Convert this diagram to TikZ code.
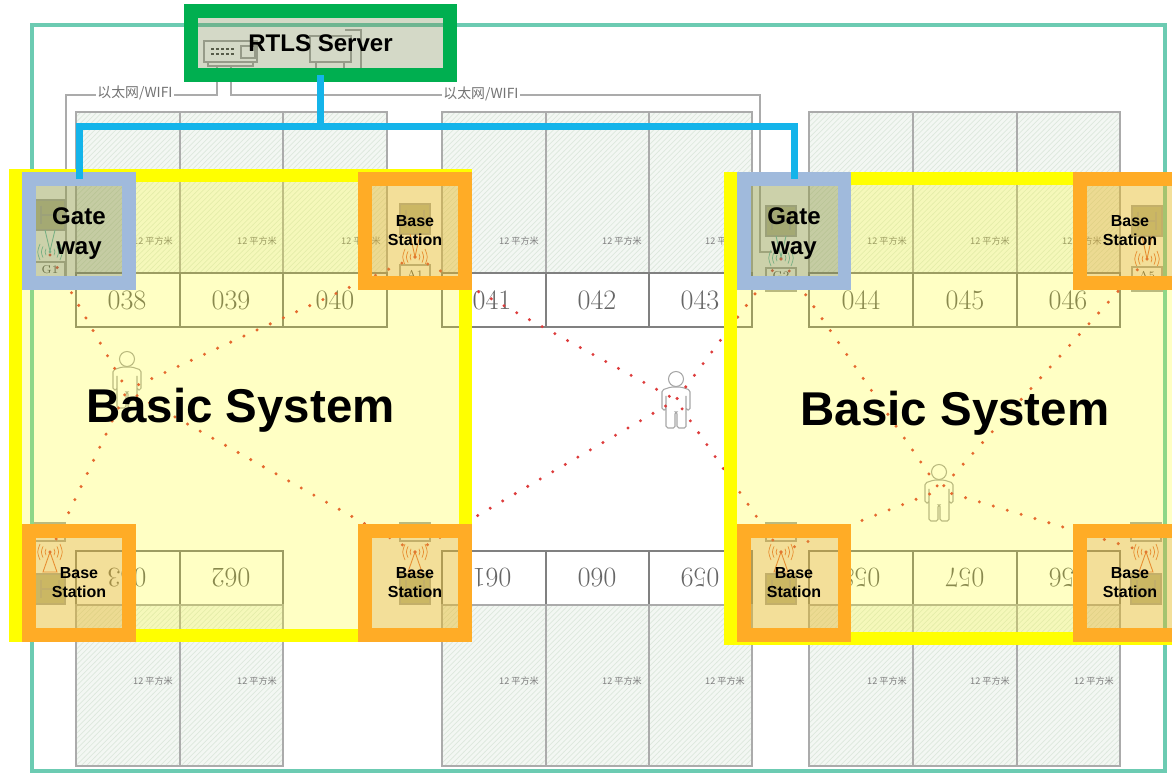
\documentclass[tikz,border=0pt]{standalone}
\usepackage{fontspec}
\setsansfont{Liberation Sans}
\newfontfamily\cjkfont{Noto Sans CJK SC}
\usetikzlibrary{patterns}

\definecolor{tealwall}{HTML}{6CCBB2}
\definecolor{greenframe}{HTML}{00AF50}
\definecolor{yellowframe}{HTML}{FFFF00}
\definecolor{orangeframe}{HTML}{FFAC26}
\definecolor{blueframe}{HTML}{A0BADC}
\definecolor{busblue}{HTML}{14B4EA}
\definecolor{hatchbg}{HTML}{F3F7F3}
\definecolor{hatchline}{HTML}{DDE8DD}
\definecolor{roomline}{HTML}{ABABAB}
\definecolor{devfill}{HTML}{B4B49A}
\definecolor{dotred}{HTML}{DD3C3C}
\definecolor{sigred}{HTML}{E8683C}
\definecolor{sigteal}{HTML}{62C0B8}
\definecolor{gatefill}{HTML}{58696E}
\definecolor{basefill}{HTML}{DA9738}
\definecolor{serverfill}{HTML}{738348}

\tikzset{
  hatchroom/.style={draw=roomline, line width=0.8, preaction={fill=hatchbg}, pattern=north east lines, pattern color=hatchline},
  numroom/.style={draw=black!50, line width=0.6},
  roomnum/.style={font=\fontsize{16}{16}\selectfont, text=black!60},
  areatext/.style={font=\cjkfont\fontsize{5.2}{6}\selectfont, text=black!50},
  nettext/.style={font=\cjkfont\fontsize{7.9}{8}\selectfont, text=black!55, fill=white, inner sep=1pt},
  cableline/.style={draw=roomline, line width=0.6},
  devline/.style={draw=black!35, line width=0.6},
  dotline/.style={draw=dotred, line width=1.9, line cap=round, dash pattern=on 0pt off 0.29cm},
  busline/.style={draw=busblue, line width=0.14cm},
  plainframe/.style={rectangle, inner sep=0pt, align=center, text=black, text opacity=1, draw opacity=1},
  systemframe/.style={plainframe, draw=yellowframe, line width=0.26cm, fill=yellowframe, fill opacity=.23, minimum height=9.2cm, text depth=0pt, font=\sffamily\bfseries\fontsize{27}{32}\selectfont},
  gateframe/.style={plainframe, draw=blueframe, line width=0.27cm, fill=gatefill, fill opacity=.3, minimum width=2.01cm, minimum height=2.09cm, text depth=0pt, font=\sffamily\bfseries\fontsize{13.7}{17}\selectfont},
  baseframe/.style={plainframe, draw=orangeframe, line width=0.27cm, fill=basefill, fill opacity=.3, minimum width=2.01cm, minimum height=2.09cm, font=\sffamily\bfseries\fontsize{9.1}{10.8}\selectfont},
  serverframe/.style={plainframe, draw=greenframe, line width=0.27cm, fill=serverfill, fill opacity=.3, minimum width=5.19cm, minimum height=1.29cm, font=\sffamily\bfseries\fontsize{13.7}{16}\selectfont},
  pics/devbox/.style={code={
    \draw[devline, fill=devfill] (-15,-15) rectangle (15,15);
    \draw[devline, line width=0.9] (-9,-9) -- (-9,9) (9,-9) -- (9,9) (-9,0) -- (9,0);
  }},
  pics/signal/.style={code={
    \fill[#1] (0,0) circle (1.5);
    \foreach \r in {4,7,10} {
      \draw[#1, line width=0.4] (-\r,-\r*.8) .. controls (-\r*1.3,0) .. (-\r,\r*.8);
      \draw[#1, line width=0.4] (\r,-\r*.8) .. controls (\r*1.3,0) .. (\r,\r*.8);
    }
  }},
  pics/personfig/.style={code={
    \draw[draw=black!35, line width=0.6] (0,0) circle (7.5);
    \draw[draw=black!35, line width=0.6, rounded corners=1] (-5,8) -- (-14,11) -- (-14,31) -- (-10,31) -- (-10,15) -- (-10,49) -- (-1,49) -- (-1,33) -- (1,33) -- (1,49) -- (10,49) -- (10,15) -- (10,31) -- (14,31) -- (14,11) -- (5,8) -- cycle;
  }},
}

\begin{document}
\begin{tikzpicture}[x=0.02cm, y=-0.02cm]
\clip[use as bounding box] (0,0) rectangle (1172,773);
\fill[white] (0,0) rectangle (1172,773);

% floor plan
\draw[draw=tealwall, line width=2] (32,25) rectangle (1165,771);

\foreach \xa/\xb in {76/180, 180/283, 283/387, 442/546, 546/649, 649/752, 809/913, 913/1017, 1017/1120} {
  \draw[hatchroom] (\xa,112) rectangle (\xb,273);
  \draw[numroom] (\xa,273) rectangle (\xb,327);
}
\foreach \xa/\xb in {76/180, 180/283, 442/546, 546/649, 649/752, 809/913, 913/1017, 1017/1120} {
  \draw[numroom] (\xa,551) rectangle (\xb,605);
  \draw[hatchroom] (\xa,605) rectangle (\xb,766);
}

\foreach \x/\num in {127/038, 231/039, 335/040, 492/041, 597/042, 700/043, 861/044, 965/045, 1068/046} {
  \node (room\num) [roomnum] at (\x,300) {\num};
}
\foreach \x/\num in {127/063, 231/062, 492/061, 597/060, 700/059, 861/058, 965/057, 1068/056} {
  \node (room\num) [roomnum, rotate=180] at (\x,578) {\num};
}
\foreach \x in {153, 257, 361, 519, 622, 725, 887, 990, 1082} {
  \node [areatext] at (\x,241) {12 平方米};
}
\foreach \x in {153, 257, 519, 622, 725, 887, 990, 1094} {
  \node [areatext] at (\x,681) {12 平方米};
}

% cables and devices
\draw[cableline] (217,66) -- (217,95) -- (66,95) -- (66,277);
\draw[cableline] (231,66) -- (231,95) -- (760,95) -- (760,252) -- (772,252);
\node (netL) [nettext] at (135,93) {以太网/WIFI};
\node (netR) [nettext] at (481,94) {以太网/WIFI};

\draw[devline, fill=white] (204,41) rectangle (257,62);
\draw[devline] (208,62) -- (208,66) -- (253,66) -- (253,62);
\foreach \x in {211,216,221,226,231} {
  \fill[black!70] (\x,48) rectangle +(3,2);
  \fill[black!70] (\x,53) rectangle +(3,2);
}
\draw[devline] (241,46) rectangle (255,58);
\draw[devline, fill=white] (310,36) rectangle (351,62);
\draw[devline] (345,30) -- (361,30) -- (361,68);
\draw[devline] (316,68) -- (316,62) (344,68) -- (344,62);

\foreach \x/\y/\tag in {50/215/G1, 781/221/G2} {
  \pic at (\x,\y) {devbox};
  \draw[draw=sigteal, line width=0.5] (\x-5,\y+15) -- (\x,\y+36) -- (\x+5,\y+15);
  \pic at (\x,\y+37) {signal=sigteal};
  \draw[devline, fill=white] (\x-15,\y+47) rectangle (\x+15,\y+70);
  \node [font=\fontsize{6.5}{7}\selectfont, text=black!70, inner sep=0pt] at (\x,\y+55) {\tag};
}
\foreach \x/\y/\tag in {415/219/A1, 1147/221/A5} {
  \pic at (\x,\y) {devbox};
  \draw[draw=sigred, line width=0.5] (\x-5,\y+15) -- (\x,\y+38) -- (\x+5,\y+15);
  \pic at (\x,\y+38) {signal=sigred};
  \draw[devline, fill=white] (\x-15,\y+46) rectangle (\x+15,\y+70);
  \node [font=\fontsize{6.5}{7}\selectfont, text=black!70, inner sep=0pt] at (\x,\y+55) {\tag};
}
\foreach \x in {50, 415, 781, 1146} {
  \draw[devline, fill=white] (\x-15,523) rectangle (\x+15,541);
  \pic at (\x,552) {signal=sigred};
  \draw[draw=sigred, line width=0.5] (\x-7,572) -- (\x,552) -- (\x+7,572) -- cycle;
  \pic at (\x,589) {devbox};
}

% people and their ranging lines
\coordinate (sigG1) at (50,255);
\coordinate (sigA1) at (415,257);
\coordinate (sigG2) at (781,259);
\coordinate (sigA5) at (1147,259);
\coordinate (sigB1) at (50,552);
\coordinate (sigB2) at (415,552);
\coordinate (sigB3) at (781,552);
\coordinate (sigB4) at (1146,552);
\coordinate (personL) at (127,390);
\coordinate (personM) at (676,400);
\coordinate (personR) at (940,490);

\pic at (127,359) {personfig};
\pic at (676,379) {personfig};
\pic at (939,472) {personfig};

\foreach \sig in {sigG1, sigA1, sigB1, sigB2} {
  \draw[dotline] (\sig) -- (personL);
}
\foreach \sig in {sigA1, sigG2, sigB2, sigB3} {
  \draw[dotline] (\sig) -- (personM);
}
\foreach \sig in {sigG2, sigA5, sigB3, sigB4} {
  \draw[dotline] (\sig) -- (personR);
}

% system frames
\node (systemL) [systemframe, minimum width=9cm] at (240.5,405.5) {Basic System};
\node (systemR) [systemframe, minimum width=8.98cm] at (955,408.5) {Basic System};

\node (server) [serverframe] at (320.5,43) {RTLS Server};
\node (gateL) [gateframe] at (79,231) {Gate\\way};
\node (gateR) [gateframe] at (794,231) {Gate\\way};
\node (baseA) [baseframe] at (415,231) {Base\\Station};
\node (baseB) [baseframe] at (1130,231) {Base\\Station};
\node (baseC) [baseframe] at (79,583) {Base\\Station};
\node (baseD) [baseframe] at (415,583) {Base\\Station};
\node (baseE) [baseframe] at (794,583) {Base\\Station};
\node (baseF) [baseframe] at (1130,583) {Base\\Station};

\coordinate (bus) at (320.5,127);
\draw[busline] ([yshift=0.14cm]server.south) -- (bus);
\draw[busline] ([yshift=-0.14cm]gateL.north) |- (bus) -| ([yshift=-0.14cm]gateR.north);

\end{tikzpicture}
\end{document}
